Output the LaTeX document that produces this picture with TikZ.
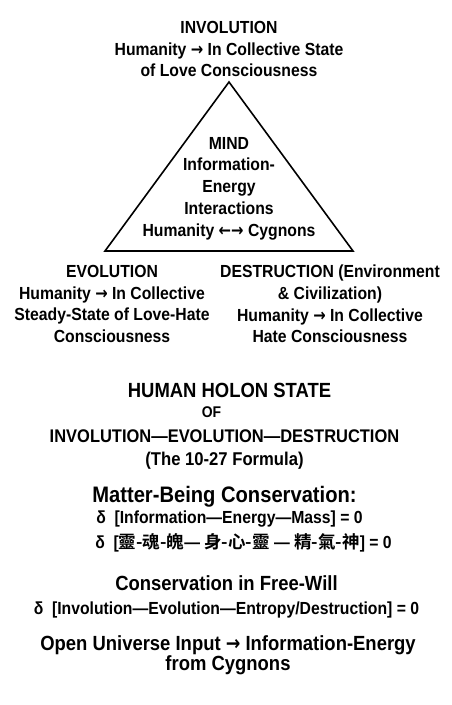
\documentclass[tikz,border=0pt]{standalone}
\usepackage{fontspec}
\setmainfont{Liberation Sans}[FakeStretch=0.9]
\newfontfamily\cjk{Noto Sans CJK TC}[BoldFont={* Bold}]
\newfontfamily\arrowfont{DejaVu Sans}[FakeStretch=0.85]
\newcommand{\toarr}{{\arrowfont →}}
\newcommand{\fromarr}{{\arrowfont ←}}
\usetikzlibrary{positioning}

\begin{document}
\begin{tikzpicture}[
  x=1pt, y=-1pt,
  txt/.style  = {align=center, inner sep=0pt, font=\bfseries\fontsize{17.5}{21.7}\selectfont},
  head/.style = {inner sep=0pt, font=\bfseries\fontsize{20.5}{24}\selectfont},
  eqn/.style  = {inner sep=0pt, font=\bfseries\fontsize{17.5}{20}\selectfont},
  small/.style = {inner sep=0pt, font=\bfseries\fontsize{18.5}{22}\selectfont},
  tri/.style  = {line width=1.6pt, line join=miter}
]
\useasboundingbox (0,0) rectangle (451,705);

% Triangle
\coordinate (apex) at (229,82);
\coordinate (left) at (105,251);
\coordinate (right) at (353,251);
\draw[tri] (apex) -- (right) -- (left) -- cycle;

% Corners and centre
\node[txt, anchor=north] (invol) at (229,21) {INVOLUTION\\Humanity \toarr{} In Collective State\\of Love Consciousness};
\node[txt, anchor=north] (mind) at (229,137) {MIND\\Information-\\Energy\\Interactions\\Humanity \fromarr\toarr{} Cygnons};
\node[txt, anchor=north] (evol) at (112,265) {EVOLUTION\\Humanity \toarr{} In Collective\\Steady-State of Love-Hate\\Consciousness};
\node[txt, anchor=north] (destr) at (330,265) {DESTRUCTION (Environment\\\& Civilization)\\Humanity \toarr{} In Collective\\Hate Consciousness};

% Lower text
\node[head, anchor=base] (holon) at (229.5,397) {HUMAN HOLON STATE};
\node[small, below=20pt of holon.base, anchor=base, xshift=-18pt, font=\bfseries\fontsize{15.5}{18}\selectfont] (of) {OF};
\node[txt, below=25pt of of.base, anchor=base, xshift=13pt, font=\bfseries\fontsize{18.3}{22}\selectfont] (ied) {INVOLUTION—EVOLUTION—DESTRUCTION};
\node[small, below=23pt of ied.base, anchor=base] (formula) {(The 10-27 Formula)};
\node[head, below=37pt of formula.base, anchor=base, font=\bfseries\fontsize{22.4}{26}\selectfont] (matter) {Matter-Being Conservation:};
\node[eqn, below=21pt of matter.base, anchor=base, xshift=5pt] (cons1) {δ\ \ [Information—Energy—Mass] = 0};
\node[eqn, below=25pt of cons1.base, anchor=base, xshift=14pt] (cons2) {δ\ \ [{\cjk 靈-魂-魄}— {\cjk 身-心-靈} — {\cjk 精-氣-神}] = 0};
\node[head, below=42pt of cons2.base, anchor=base, xshift=-17pt] (free) {Conservation in Free-Will};
\node[eqn, below=24pt of free.base, anchor=base] (cons3) {δ\ \ [Involution—Evolution—Entropy/Destruction] = 0};
\node[head, below=36pt of cons3.base, anchor=base, xshift=1.5pt] (open) {Open Universe Input \toarr{} Information-Energy};
\node[head, below=20pt of open.base, anchor=base] (cyg) {from Cygnons};

\end{tikzpicture}
\end{document}
